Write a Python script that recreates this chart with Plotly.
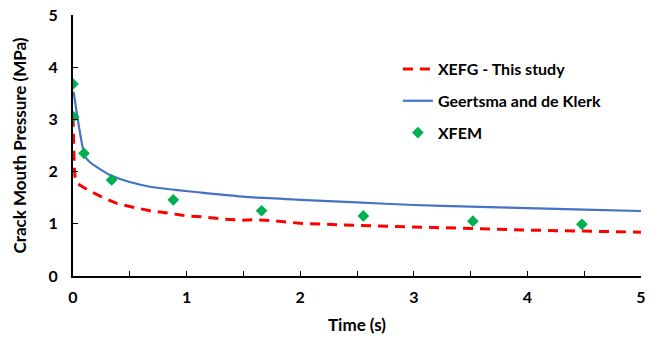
import plotly.graph_objects as go

# XEFG - This study (red dashed)
xefg_t = [0.0, 0.004, 0.01, 0.018, 0.04, 0.062, 0.106, 0.238, 0.385, 0.546, 0.678, 0.854, 1.0, 1.16, 1.32, 1.485, 1.60, 1.75, 2.0, 2.5, 3.0, 3.5, 4.0, 4.5, 5.0]
xefg_p = [3.05, 2.55, 2.15, 1.90, 1.78, 1.74, 1.68, 1.53, 1.39, 1.31, 1.25, 1.20, 1.15, 1.13, 1.09, 1.07, 1.08, 1.06, 1.01, 0.97, 0.94, 0.90, 0.88, 0.86, 0.84]

# Geertsma and de Klerk (blue solid)
gdk_t = [0.005, 0.106, 0.15, 0.2, 0.33, 0.5, 0.68, 0.9, 1.12, 1.56, 2.0, 2.5, 3.0, 3.5, 4.0, 4.5, 5.0]
gdk_p = [3.53, 2.29, 2.18, 2.10, 1.93, 1.80, 1.71, 1.65, 1.60, 1.51, 1.46, 1.41, 1.36, 1.33, 1.30, 1.27, 1.245]

# XFEM (green diamonds)
xfem_t = [0.0, 0.005, 0.097, 0.34, 0.883, 1.66, 2.556, 3.52, 4.48]
xfem_p = [3.68, 3.05, 2.35, 1.84, 1.46, 1.25, 1.15, 1.05, 0.99]

FONT = "Lato"

fig = go.Figure()
fig.add_trace(go.Scatter(x=xefg_t, y=xefg_p, mode="lines", name="XEFG - This study",
                         line=dict(color="#FF0000", width=3, dash="10px,7px"),
                         legendgroup="a"))
fig.add_trace(go.Scatter(x=gdk_t, y=gdk_p, mode="lines", name="Geertsma and de Klerk",
                         line=dict(color="#4472C4", width=2.2, shape="spline", smoothing=0.6),
                         legendgroup="b"))
fig.add_trace(go.Scatter(x=xfem_t, y=xfem_p, mode="markers", name="XFEM",
                         marker=dict(color="#00B050", symbol="diamond", size=9),
                         legendgroup="c"))

axis_font = dict(family=FONT, size=16, color="black", weight="bold")
title_font = dict(family=FONT, size=17, color="black", weight="bold")
legend_font = dict(family=FONT, size=16, color="black", weight="bold")

fig.update_layout(
    width=654, height=337,
    margin=dict(l=73, r=13, t=15, b=61),
    paper_bgcolor="white", plot_bgcolor="white",
    font=dict(family=FONT, size=16, color="black", weight="bold"),
    showlegend=True,
    legend=dict(x=0.572, y=0.858, xanchor="left", yanchor="top",
                traceorder="grouped", tracegroupgap=8,
                bgcolor="rgba(0,0,0,0)", font=legend_font),
    xaxis=dict(range=[0, 5], tickvals=[0, 1, 2, 3, 4, 5], ticks="inside", ticklen=5,
               tickwidth=1, tickcolor="black", ticklabelstandoff=6, automargin=False,
               minor=dict(dtick=0.5, ticks="inside", ticklen=5, tickcolor="black", tickwidth=1),
               showline=True, linecolor="black", linewidth=2, showgrid=False, zeroline=False,
               tickfont=axis_font,
               title=dict(text="Time (s)", font=title_font, standoff=14)),
    yaxis=dict(range=[0, 5], tickvals=[0, 1, 2, 3, 4, 5], ticks="inside", ticklen=5,
               tickwidth=1, tickcolor="black", ticklabelstandoff=10, automargin=False,
               showline=True, linecolor="black", linewidth=2, showgrid=False, zeroline=False,
               tickfont=axis_font,
               title=dict(text="Crack Mouth Pressure (MPa)", font=title_font, standoff=18)),
)

fig.write_html("out.html")
